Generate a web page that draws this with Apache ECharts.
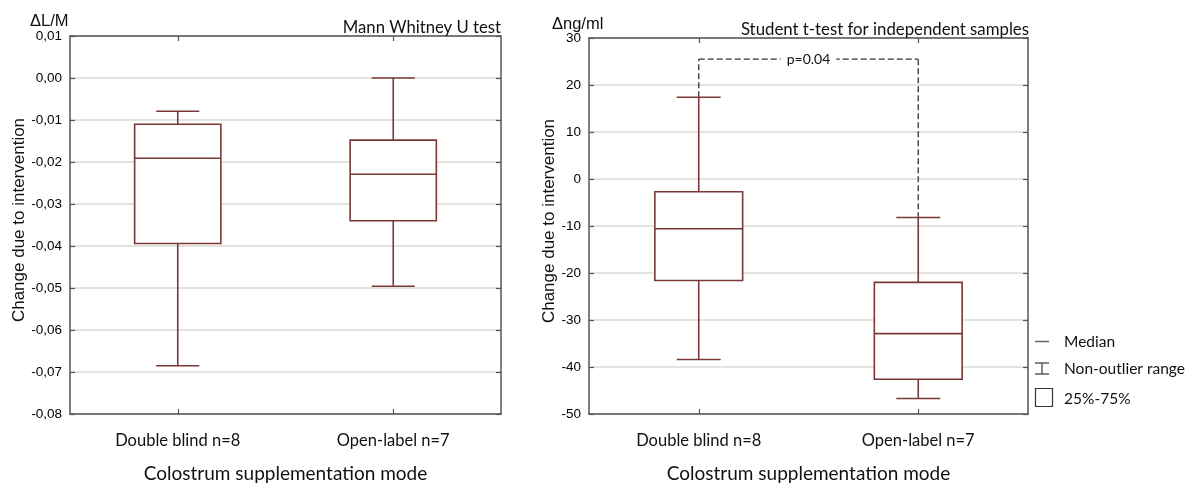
<!DOCTYPE html>
<html>
<head>
<meta charset="utf-8">
<script src="https://cdn.jsdelivr.net/npm/echarts@6/dist/echarts.min.js"></script>
<style>
html,body{margin:0;padding:0;background:#fff;}
#chart{width:1195px;height:483px;}
</style>
</head>
<body>
<div id="chart"></div>
<script>
// ---- data ----
const categories = ['Double blind n=8', 'Open-label n=7'];

// Left panel: ΔL/M
const lmMin    = [-0.0685, -0.0496];
const lmQ1     = [-0.0394, -0.0340];
const lmMedian = [-0.0191, -0.0229];
const lmQ3     = [-0.0110, -0.0148];
const lmMax    = [-0.0079,  0.0000];
const lmTickLabels = ['-0,08','-0,07','-0,06','-0,05','-0,04','-0,03','-0,02','-0,01','0,00','0,01'];

// Right panel: Δng/ml
const ngMin    = [-38.4, -46.7];
const ngQ1     = [-21.6, -42.6];
const ngMedian = [-10.6, -32.9];
const ngQ3     = [ -2.7, -22.0];
const ngMax    = [ 17.4,  -8.2];
const ngTickLabels = ['-50','-40','-30','-20','-10','0','10','20','30'];

const pBracketY = 25.5;
const pLabel = 'p=0.04';

// ---- helpers ----
const BOX_COLOR = '#7a3838';
const calib = 'Lato';
const arial = 'Liberation Sans';

function boxData(mn, q1, md, q3, mx) {
  return categories.map((c, i) => [i, mn[i], q1[i], md[i], q3[i], mx[i]]);
}

function renderBox(params, api) {
  const i = api.value(0);
  const band = api.size([1, 0])[0];
  const bw = band * 0.4, cw = band * 0.2;
  const pMin = api.coord([i, api.value(1)]);
  const pQ1 = api.coord([i, api.value(2)]);
  const pMd = api.coord([i, api.value(3)]);
  const pQ3 = api.coord([i, api.value(4)]);
  const pMax = api.coord([i, api.value(5)]);
  const x = pMd[0];
  const st = { stroke: BOX_COLOR, lineWidth: 1.6, fill: null };
  return {
    type: 'group',
    children: [
      { type: 'line', shape: { x1: x, y1: pMax[1], x2: x, y2: pQ3[1] }, style: st },
      { type: 'line', shape: { x1: x, y1: pQ1[1], x2: x, y2: pMin[1] }, style: st },
      { type: 'line', shape: { x1: x - cw / 2, y1: pMax[1], x2: x + cw / 2, y2: pMax[1] }, style: st },
      { type: 'line', shape: { x1: x - cw / 2, y1: pMin[1], x2: x + cw / 2, y2: pMin[1] }, style: st },
      { type: 'rect', shape: { x: x - bw / 2, y: pQ3[1], width: bw, height: pQ1[1] - pQ3[1] },
        style: { stroke: BOX_COLOR, lineWidth: 1.6, fill: '#fff' } },
      { type: 'line', shape: { x1: x - bw / 2, y1: pMd[1], x2: x + bw / 2, y2: pMd[1] }, style: st }
    ]
  };
}

function renderBracket(params, api) {
  const y = api.value(0);
  const endL = api.value(1), endR = api.value(2);
  const a = api.coord([0, y]);
  const b = api.coord([1, y]);
  const aEnd = api.coord([0, endL]);
  const bEnd = api.coord([1, endR]);
  const st = { stroke: '#333', lineWidth: 1.3, lineDash: [6, 3], fill: null };
  return {
    type: 'group',
    children: [
      { type: 'line', shape: { x1: a[0], y1: aEnd[1], x2: a[0], y2: a[1] }, style: st },
      { type: 'line', shape: { x1: a[0], y1: a[1], x2: b[0], y2: b[1] }, style: st },
      { type: 'line', shape: { x1: b[0], y1: b[1], x2: b[0], y2: bEnd[1] }, style: st },
      { type: 'text', x: (a[0] + b[0]) / 2, y: a[1],
        style: { text: pLabel, fill: '#111', font: '14px ' + calib, align: 'center', verticalAlign: 'middle',
                 backgroundColor: '#fff', padding: [0, 6] } }
    ]
  };
}

const axisLineStyle = { color: '#555', width: 1.5 };

function catAxis(gridIndex, position, show) {
  return {
    type: 'category', gridIndex, position, data: categories, boundaryGap: true,
    axisLine: { show: true, onZero: false, lineStyle: axisLineStyle },
    axisTick: { show: true, inside: true, alignWithLabel: true, length: 5, lineStyle: { color: '#555', width: 1.2 } },
    axisLabel: { show, margin: 18, color: '#111', fontFamily: calib, fontSize: 16.5 },
    name: show ? 'Colostrum supplementation mode' : '',
    nameLocation: 'middle', nameGap: 50,
    nameTextStyle: { color: '#111', fontFamily: calib, fontSize: 19 },
    splitLine: { show: false }
  };
}

function valAxis(gridIndex, position, show, min, max, interval, labels, nameGap) {
  return {
    type: 'value', gridIndex, position, min, max, interval,
    axisLine: { show: true, onZero: false, lineStyle: axisLineStyle },
    axisTick: { show: true, inside: true, length: 5, lineStyle: { color: '#555', width: 1.2 } },
    axisLabel: { show, margin: 8, color: '#000', fontFamily: arial, fontSize: 13.5,
                 formatter: (v, idx) => labels[Math.round((v - min) / interval)] },
    splitLine: { show: show, lineStyle: { color: '#dadada', width: 1.5 } },
    name: show ? 'Change due to intervention' : '',
    nameLocation: 'middle', nameRotate: 90, nameGap: nameGap || 40,
    nameTextStyle: { color: '#111', fontFamily: arial, fontSize: 17, padding: [0, 0, 0, 10] }
  };
}

const chart = echarts.init(document.getElementById('chart'), null, { renderer: 'canvas' });
chart.setOption({
  backgroundColor: '#fff',
  animation: false,
  title: [
    { text: 'ΔL/M', left: 30, top: 13, padding: 0,
      textStyle: { fontFamily: arial, fontSize: 16.5, fontWeight: 'normal', color: '#111' } },
    { text: 'Mann Whitney U test', right: 694, top: 19, padding: 0,
      textStyle: { fontFamily: calib, fontSize: 16.7, fontWeight: 'normal', color: '#111' } },
    { text: 'Δng/ml', left: 552, top: 16, padding: 0,
      textStyle: { fontFamily: arial, fontSize: 16.5, fontWeight: 'normal', color: '#111' } },
    { text: 'Student t-test for independent samples', right: 166, top: 21, padding: 0,
      textStyle: { fontFamily: calib, fontSize: 16.8, fontWeight: 'normal', color: '#111' } }
  ],
  grid: [
    { left: 70, right: 694, top: 36, bottom: 69, show: false, outerBoundsMode: 'none', containLabel: false },
    { left: 589, right: 167, top: 38, bottom: 69, show: false, outerBoundsMode: 'none', containLabel: false }
  ],
  xAxis: [
    catAxis(0, 'bottom', true),
    catAxis(0, 'top', false),
    catAxis(1, 'bottom', true),
    catAxis(1, 'top', false)
  ],
  yAxis: [
    valAxis(0, 'left', true, -0.08, 0.01, 0.01, lmTickLabels, 42),
    valAxis(0, 'right', false, -0.08, 0.01, 0.01, lmTickLabels),
    valAxis(1, 'left', true, -50, 30, 10, ngTickLabels, 30),
    valAxis(1, 'right', false, -50, 30, 10, ngTickLabels)
  ],
  series: [
    { type: 'custom', xAxisIndex: 0, yAxisIndex: 0, renderItem: renderBox,
      encode: { x: 0, y: [1, 2, 3, 4, 5] }, data: boxData(lmMin, lmQ1, lmMedian, lmQ3, lmMax), z: 5 },
    { type: 'custom', xAxisIndex: 2, yAxisIndex: 2, renderItem: renderBox,
      encode: { x: 0, y: [1, 2, 3, 4, 5] }, data: boxData(ngMin, ngQ1, ngMedian, ngQ3, ngMax), z: 5 },
    { type: 'custom', xAxisIndex: 2, yAxisIndex: 2, renderItem: renderBracket,
      encode: { y: [0, 1, 2] }, data: [[pBracketY, ngMax[0], ngMax[1]]], z: 4 }
  ],
  graphic: [
    { type: 'line', shape: { x1: 1035, y1: 341.5, x2: 1049, y2: 341.5 }, style: { stroke: '#666', lineWidth: 1.5 } },
    { type: 'text', x: 1064, y: 341.5, style: { text: 'Median', font: '15.5px ' + calib, fill: '#111', verticalAlign: 'middle' } },
    { type: 'line', shape: { x1: 1042, y1: 363, x2: 1042, y2: 374 }, style: { stroke: '#444', lineWidth: 1.3 } },
    { type: 'line', shape: { x1: 1035, y1: 363, x2: 1049, y2: 363 }, style: { stroke: '#444', lineWidth: 1.3 } },
    { type: 'line', shape: { x1: 1035, y1: 374, x2: 1049, y2: 374 }, style: { stroke: '#444', lineWidth: 1.3 } },
    { type: 'text', x: 1064, y: 368.5, style: { text: 'Non-outlier range', font: '15.5px ' + calib, fill: '#111', verticalAlign: 'middle' } },
    { type: 'rect', shape: { x: 1035.5, y: 388.5, width: 17, height: 18 }, style: { stroke: '#333', lineWidth: 1.2, fill: '#fff' } },
    { type: 'text', x: 1064, y: 399, style: { text: '25%-75%', font: '15.5px ' + calib, fill: '#111', verticalAlign: 'middle' } }
  ]
});
</script>
</body>
</html>
